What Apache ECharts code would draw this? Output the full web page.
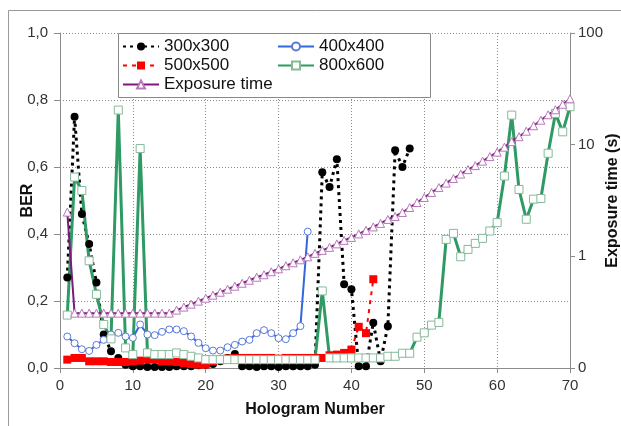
<!DOCTYPE html>
<html><head><meta charset="utf-8">
<script src="https://cdn.jsdelivr.net/npm/echarts@6/dist/echarts.min.js"></script>
<style>html,body{margin:0;padding:0;background:#fff}#c{width:621px;height:426px}</style>
</head><body><div id="c"></div>
<script>
const seriesNames = ['300x300', '400x400', '500x500', '800x600', 'Exposure time'];
const berTicks = [0, 0.2, 0.4, 0.6, 0.8, 1.0];
const ber300 = [0.27,0.75,0.46,0.37,0.255,0.10,0.05,0.03,0.01,0.005,
  0.005,0.003,0.003,0.003,0.003,0.005,0.005,0.005,0.008,0.01,
  0.012,0.02,0.03,0.042,0.005,0.005,0.003,0.005,0.005,0.003,
  0.005,0.005,0.005,0.005,0.01,0.584,0.54,0.623,0.25,0.235,
  0.005,0.005,0.135,0.02,0.125,0.65,0.60,0.655];
const ber400 = [0.094,0.074,0.056,0.051,0.069,0.084,0.10,0.105,0.094,0.09,
  0.13,0.10,0.098,0.108,0.115,0.115,0.11,0.094,0.075,0.059,
  0.052,0.052,0.062,0.069,0.079,0.084,0.104,0.113,0.104,0.089,
  0.086,0.104,0.125,0.407];
const ber500 = [0.025,0.03,0.03,0.02,0.02,0.02,0.018,0.018,0.018,0.02,
  0.022,0.025,0.025,0.02,0.02,0.018,0.015,0.012,0.01,0.01,
  0.02,0.025,0.028,0.03,0.03,0.03,0.03,0.03,0.03,0.028,
  0.03,0.03,0.03,0.03,0.03,0.03,0.038,0.04,0.045,0.055,
  0.123,0.104,0.265];
const ber800 = [0.158,0.57,0.53,0.32,0.22,0.13,0.087,0.77,0.06,0.04,
  0.655,0.045,0.04,0.04,0.04,0.045,0.04,0.035,0.03,0.025,
  0.025,0.025,0.025,0.025,0.025,0.025,0.025,0.025,0.025,0.025,
  0.025,0.025,0.025,0.025,0.025,0.23,0.03,0.03,0.03,0.03,
  0.03,0.03,0.03,0.03,0.035,0.035,0.044,0.044,0.092,0.105,
  0.128,0.136,0.384,0.402,0.332,0.354,0.372,0.387,0.409,0.434,
  0.573,0.755,0.533,0.444,0.504,0.506,0.641,0.76,0.705,0.78];
const exposure = [2.49,0.31,0.31,0.31,0.31,0.31,0.31,0.31,0.31,0.31,
  0.31,0.31,0.31,0.31,0.31,0.33,0.351,0.373,0.397,0.422,
  0.449,0.477,0.508,0.54,0.574,0.611,0.65,0.684,0.727,0.773,
  0.823,0.875,0.931,0.99,1.064,1.131,1.203,1.293,1.389,1.477,
  1.588,1.707,1.834,1.971,2.14,2.276,2.471,2.738,3.035,3.363,
  3.728,4.13,4.53,4.97,5.45,5.98,6.49,7.12,7.82,8.57,
  9.5,10.64,11.79,13.2,14.78,16.55,18.53,20.54,22.99,25.75];

function pairs(arr) { return arr.map((v, i) => [i + 1, v]); }

const FONT = 'Liberation Sans, Arial, sans-serif';
const chart = echarts.init(document.getElementById('c'), null, {renderer: 'canvas'});
const gridCol = '#8a8a8a';
const axisCol = '#8c8c8c';
const legendText = {fontFamily: FONT, fontSize: 17, color: '#111', lineHeight: 17};

chart.setOption({
  animation: false,
  backgroundColor: '#fff',
  textStyle: {fontFamily: FONT},
  grid: {left: 60, right: 51, top: 33, bottom: 58, containLabel: false, outerBoundsMode: 'none'},
  graphic: [
    {type: 'polyline', z: 1, silent: true, shape: {points: [[8.5, 430], [8.5, 10.5], [630, 10.5]]},
     style: {stroke: '#9a9a9a', lineWidth: 1, fill: null}},
    {type: 'rect', z: 5, silent: true, shape: {x: 118.5, y: 33.5, width: 312, height: 64},
     style: {fill: '#fff', stroke: '#888', lineWidth: 1}}
  ],
  legend: [
    {data: [seriesNames[0], seriesNames[2], seriesNames[4]], orient: 'vertical', left: 122, top: 38,
     itemWidth: 36, itemHeight: 10, itemGap: 2, z: 6, textStyle: legendText, padding: 0},
    {data: [seriesNames[1], seriesNames[3]], orient: 'vertical', left: 277, top: 38,
     itemWidth: 36, itemHeight: 10, itemGap: 2, z: 6, textStyle: legendText, padding: 0}
  ],
  xAxis: {
    type: 'value', min: 0, max: 70, interval: 10,
    name: 'Hologram Number', nameLocation: 'middle', nameGap: 34, nameMoveOverlap: false,
    nameTextStyle: {fontFamily: FONT, fontSize: 16, fontWeight: 'bold', color: '#111'},
    axisLine: {show: true, lineStyle: {color: axisCol, width: 1}},
    axisTick: {show: true, length: 5, lineStyle: {color: axisCol}},
    axisLabel: {fontFamily: FONT, fontSize: 15, color: '#333', margin: 10},
    splitLine: {show: true, lineStyle: {color: gridCol, type: [1, 2], width: 1}}
  },
  yAxis: [
    {
      type: 'value', min: 0, max: 1, interval: 0.2, position: 'left',
      name: 'BER', nameLocation: 'middle', nameGap: 24, nameMoveOverlap: false,
      nameTextStyle: {fontFamily: FONT, fontSize: 16, fontWeight: 'bold', color: '#111'},
      axisLine: {show: true, lineStyle: {color: axisCol, width: 1}},
      axisTick: {show: true, length: 6, lineStyle: {color: axisCol}},
      axisLabel: {fontFamily: FONT, fontSize: 15, color: '#333', margin: 12,
        formatter: v => berTicks.includes(+v.toFixed(1)) ? v.toFixed(1).replace('.', ',') : ''},
      splitLine: {show: true, lineStyle: {color: gridCol, type: [1, 2], width: 1}}
    },
    {
      type: 'log', logBase: 10, min: 0.1, max: 100, position: 'right',
      name: 'Exposure time (s)', nameLocation: 'middle', nameGap: 35, nameMoveOverlap: false,
      nameTextStyle: {fontFamily: FONT, fontSize: 16, fontWeight: 'bold', color: '#111'},
      axisLine: {show: true, lineStyle: {color: axisCol, width: 1}},
      axisTick: {show: true, length: 5, lineStyle: {color: axisCol}},
      axisLabel: {fontFamily: FONT, fontSize: 15, color: '#333', margin: 8,
        formatter: v => v < 1 ? '0' : String(Math.round(v))},
      splitLine: {show: false}
    }
  ],
  series: [
    {name: seriesNames[0], type: 'line', yAxisIndex: 0, data: pairs(ber300), z: 2,
     showAllSymbol: true, symbol: 'circle', symbolSize: 8,
     lineStyle: {color: '#000', width: 3, type: [3, 4]},
     itemStyle: {color: '#000'}},
    {name: seriesNames[1], type: 'line', yAxisIndex: 0, data: pairs(ber400), z: 2,
     showAllSymbol: true, symbol: 'circle', symbolSize: 7,
     lineStyle: {color: '#3565e0', width: 2},
     itemStyle: {color: '#fff', borderColor: '#5a7ad8', borderWidth: 1}},
    {name: seriesNames[2], type: 'line', yAxisIndex: 0, data: pairs(ber500), z: 2,
     showAllSymbol: true, symbol: 'rect', symbolSize: 8,
     lineStyle: {color: '#ff0000', width: 2, type: [4, 5]},
     itemStyle: {color: '#ff0000'}},
    {name: seriesNames[3], type: 'line', yAxisIndex: 0, data: pairs(ber800), z: 2,
     showAllSymbol: true, symbol: 'rect', symbolSize: 8,
     lineStyle: {color: '#2f9a63', width: 3},
     itemStyle: {color: '#fff', borderColor: '#86b99a', borderWidth: 1}},
    {name: seriesNames[4], type: 'line', yAxisIndex: 1, data: pairs(exposure), z: 2,
     showAllSymbol: true, symbol: 'triangle', symbolSize: 8,
     lineStyle: {color: '#7a1a7a', width: 2},
     itemStyle: {color: '#fff', borderColor: '#b978b9', borderWidth: 1}}
  ]
});
</script>
</body></html>
